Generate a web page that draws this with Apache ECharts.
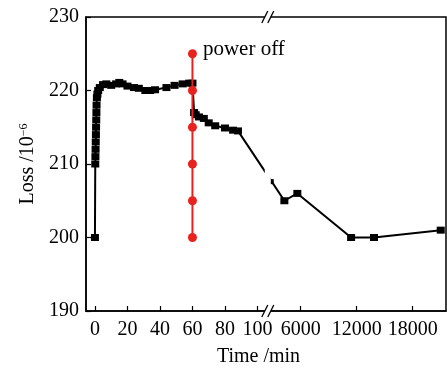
<!DOCTYPE html>
<html><head><meta charset="utf-8">
<script src="https://cdn.jsdelivr.net/npm/echarts@6/dist/echarts.min.js"></script>
<style>html,body{margin:0;padding:0;background:#fff}#c{width:447px;height:377px}</style>
</head><body><div id="c"></div>
<script>
// ---- data ----
const timeMin = [0,0.2,0.3,0.4,0.5,0.6,0.7,0.8,0.9,1.0,1.2,1.5,2,3,5,7,10,13,15,17,20,24,27,31,34,37,44,49,54,58,60,61,62,64,67,70,74,80,85,88,2900,4250,5640,11400,13850,21000];
const lossVal = [200,210,211,212,213,214,215,216,217,218,219,219.5,220,220.4,220.8,220.9,220.7,220.9,221.1,220.9,220.6,220.4,220.3,220.0,220.0,220.1,220.4,220.7,220.9,221.0,221.0,217.0,216.7,216.4,216.2,215.6,215.2,214.9,214.6,214.5,207.6,205.0,206.0,200.0,200.0,201.0];
const powerOffTime = 60;
const powerOffLoss = [200,205,210,215,220,225];
const xTickTimes = [0,20,40,60,80,100,6000,12000,18000];
const xTickLabels = ['0','20','40','60','80','100','6000','12000','18000'];

// broken time axis: 0-100 min linear, then compressed long-time segment
const U6000 = 126.6, MIN_PER_U = 174.1;
function toU(t){ return t <= 100 ? t : U6000 + (t - 6000) / MIN_PER_U; }
const GAP_U = [104.5, 108.2];

const font = 'Liberation Serif';
const chart = echarts.init(document.getElementById('c'));
const labelMap = {};
xTickTimes.forEach((t,i)=>{ labelMap[toU(t).toFixed(3)] = xTickLabels[i]; });

chart.setOption({
  animation:false,
  grid:{left:86,right:1,top:17,bottom:66,show:true,borderColor:'#000',borderWidth:1.5},
  xAxis:{type:'value',min:-5.5,max:216,
    name:'Time /min',nameLocation:'middle',nameGap:36,
    nameTextStyle:{fontFamily:font,fontSize:20,color:'#000',padding:[0,15,0,0]},
    axisLine:{onZero:false,lineStyle:{color:'#000',width:1.5}},
    axisTick:{inside:true,length:5,lineStyle:{color:'#000',width:1.2},customValues:xTickTimes.map(toU)},
    axisLabel:{fontFamily:font,fontSize:20,color:'#000',margin:9,customValues:xTickTimes.map(toU),
      formatter:v=>labelMap[v.toFixed(3)] ?? ''},
    splitLine:{show:false}},
  yAxis:{type:'value',min:190,max:230,interval:10,
    name:'Loss /10{sup|−6}',nameLocation:'middle',nameGap:47,
    nameTextStyle:{fontFamily:font,fontSize:20,color:'#000',rich:{sup:{fontFamily:font,fontSize:12,color:'#000',verticalAlign:'top',padding:[0,0,8,0]}}},
    axisLine:{show:true,onZero:false,lineStyle:{color:'#000',width:1.5}},
    axisTick:{inside:true,length:5,lineStyle:{color:'#000',width:1.2}},
    axisLabel:{fontFamily:font,fontSize:20,color:'#000',margin:7},
    splitLine:{show:false}},
  series:[
    {type:'line',data:timeMin.map((t,i)=>(t===2900 ? {value:[toU(t),lossVal[i]],symbolSize:[4,5]} : [toU(t),lossVal[i]])),
      symbol:'rect',symbolSize:[8,7],itemStyle:{color:'#000'},
      lineStyle:{color:'#000',width:2},z:3},
    {type:'line',data:powerOffLoss.map((v,i)=>({value:[toU(powerOffTime),v],
        label: i===powerOffLoss.length-1 ? {show:true,position:'right',distance:6,offset:[0,-4],
          formatter:'power off',fontFamily:font,fontSize:21,color:'#000'} : {show:false}})),
      symbol:'circle',symbolSize:9,itemStyle:{color:'#e8231f'},
      lineStyle:{color:'#e8231f',width:2},z:4}
  ]
});

// axis break decoration
const xa = chart.convertToPixel({xAxisIndex:0}, GAP_U[0]);
const xb = chart.convertToPixel({xAxisIndex:0}, GAP_U[1]);
const yTop = chart.convertToPixel({yAxisIndex:0}, 230);
const yBot = chart.convertToPixel({yAxisIndex:0}, 190);
const yA = chart.convertToPixel({yAxisIndex:0}, 215);
const yB = chart.convertToPixel({yAxisIndex:0}, 200);
const els = [];
[[yTop-8,yTop+8],[yA,yB],[yBot-8,yBot+6]].forEach(([y1,y2])=>{
  els.push({type:'rect',shape:{x:xa,y:y1,width:xb-xa,height:y2-y1},style:{fill:'#fff'},z:100});
});
[yTop,yBot].forEach(y=>{
  [xa,xb].forEach(x=>{
    els.push({type:'line',shape:{x1:x-3,y1:y+6,x2:x+3,y2:y-6},style:{stroke:'#000',lineWidth:1.3},z:101});
  });
});
chart.setOption({graphic:{elements:els}});
</script></body></html>
